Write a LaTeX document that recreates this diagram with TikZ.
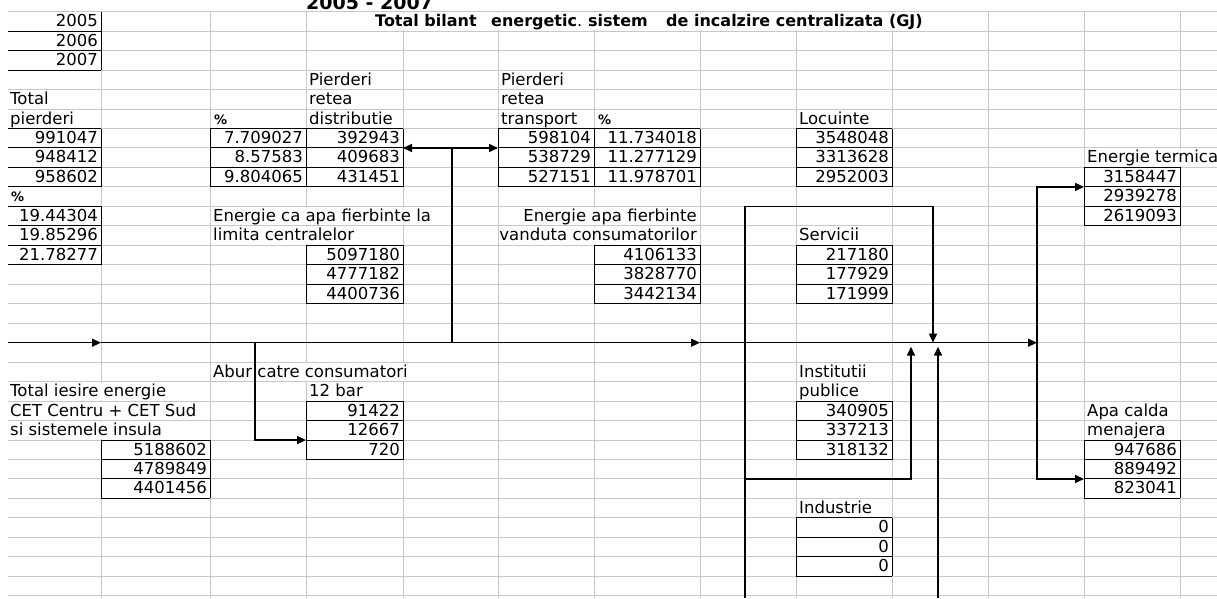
\documentclass[tikz,border=0pt]{standalone}
\usepackage{fontspec}
\setmainfont{DejaVu Sans}
\usetikzlibrary{arrows.meta}
\definecolor{gridc}{RGB}{200,200,200}
\tikzset{
  gridline/.style={draw=gridc, line width=1pt},
  gridgap/.style={draw=white, line width=3pt},
  cellb/.style={draw=black, line width=1pt},
  flow/.style={draw=black, line width=1.5pt},
  flowarr/.style={flow, -{Triangle[length=9pt,width=8pt]}},
  lt/.style={anchor=base west, inner sep=0pt},
  rt/.style={anchor=base east, inner sep=0pt},
  boldtxt/.style={anchor=base west, inner sep=0pt, font=\fontsize{16}{18}\bfseries\selectfont},
  pct/.style={anchor=base west, inner sep=0pt, font=\fontsize{13}{15}\bfseries\selectfont},
}
\newcommand\celltxtL[4]{\node[lt] (#1) at (#2,{Ly(#3)-4.5}) {#4};}
\newcommand\celltxtR[4]{\node[rt] (#1) at (#2,{Ly(#3)-4.5}) {#4};}
\newcommand\cellpct[3]{\node[pct] (#1) at (#2,{Ly(#3)-4.5}) {\%};}
\newcommand\cellbox[5]{%
  \foreach \k in {#3,...,#4} {\draw[cellb] (#1,{Ly(\k-1)}) -- (#2,{Ly(\k-1)});}
  \draw[cellb] (#1,{Ly(#4)}) -- (#2,{Ly(#4)});
  \draw[cellb] (#2,{Ly(#3-1)}) -- (#2,{Ly(#4)});
  \ifnum#5=1 \draw[cellb] (#1,{Ly(#3-1)}) -- (#1,{Ly(#4)});\fi
}
\begin{document}
\begin{tikzpicture}[x=1pt,y=-1pt, font=\fontsize{16.5}{19}\selectfont,
  declare function={Ly(\k)=11.7+19.47*\k;}]
\useasboundingbox (0,0) rectangle (1217,598);
\clip (0,0) rectangle (1217,598);
\fill[white] (0,0) rectangle (1217,598);

% grid
\foreach \k in {0,...,30} \draw[gridline] (8,{Ly(\k)}) -- (1217,{Ly(\k)});
\foreach \x in {101,210,306,403,498,594,700,796,892,988,1084,1180}
  \draw[gridline] (\x,{Ly(0)}) -- (\x,598);
% gridlines hidden under overflowing text
\foreach \r/\x in {1/403,1/498,1/594,1/700,1/796,1/892,8/1180,11/306,11/403,11/594,
                   12/306,12/594,19/306,19/403,20/101,21/101,22/101}
  \draw[gridgap] (\x,{Ly(\r-1)+1}) -- (\x,{Ly(\r)-1});

% cell borders
\foreach \k in {1,2,3} \draw[cellb] (8,{Ly(\k)}) -- (101,{Ly(\k)});
\draw[cellb] (101,{Ly(0)}) -- (101,{Ly(3)});
\cellbox{8}{101}{7}{9}{0}
\cellbox{8}{101}{11}{13}{0}
\cellbox{210}{403}{7}{9}{1}
\draw[cellb] (306,{Ly(6)}) -- (306,{Ly(9)});
\cellbox{498}{700}{7}{9}{1}
\draw[cellb] (594,{Ly(6)}) -- (594,{Ly(9)});
\cellbox{796}{892}{7}{9}{1}
\cellbox{1084}{1180}{9}{11}{1}
\cellbox{306}{403}{13}{15}{1}
\cellbox{594}{700}{13}{15}{1}
\cellbox{796}{892}{13}{15}{1}
\cellbox{306}{403}{21}{23}{1}
\cellbox{101}{210}{23}{25}{1}
\cellbox{796}{892}{21}{23}{1}
\cellbox{1084}{1180}{23}{25}{1}
\cellbox{796}{892}{27}{29}{1}

% title (its upper part lies above the sheet, as in the screenshot)
\node[anchor=base west, inner sep=0pt, font=\fontsize{19}{22}\bfseries\selectfont] (hdr) at (306,9) {2005 - 2007};
\node[boldtxt] (ti1) at (375,{Ly(1)-4.5}) {Total bilant};
\node[boldtxt] (ti2) at (491,{Ly(1)-4.5}) {energetic\textmd{.}};
\node[boldtxt] (ti3) at (588,{Ly(1)-4.5}) {sistem};
\node[boldtxt] (ti4) at (666,{Ly(1)-4.5}) {de incalzire centralizata (GJ)};

% column A
\celltxtR{y05}{98}{1}{2005}
\celltxtR{y06}{98}{2}{2006}
\celltxtR{y07}{98}{3}{2007}
\celltxtL{tp1}{10}{5}{Total}
\celltxtL{tp2}{10}{6}{pierderi}
\celltxtR{tpa}{98}{7}{991047}
\celltxtR{tpb}{98}{8}{948412}
\celltxtR{tpc}{98}{9}{958602}
\cellpct{pcA}{11}{10}
\celltxtR{ppa}{98}{11}{19.44304}
\celltxtR{ppb}{98}{12}{19.85296}
\celltxtR{ppc}{98}{13}{21.78277}
\celltxtL{te1}{10}{20}{Total iesire energie}
\celltxtL{te2}{10}{21}{CET Centru + CET Sud}
\celltxtL{te3}{10}{22}{si sistemele insula}
% column B
\celltxtR{tea}{207}{23}{5188602}
\celltxtR{teb}{207}{24}{4789849}
\celltxtR{tec}{207}{25}{4401456}
% column C
\cellpct{pcC}{214}{6}
\celltxtR{pda}{303}{7}{7.709027}
\celltxtR{pdb}{303}{8}{8.57583}
\celltxtR{pdc}{303}{9}{9.804065}
\celltxtL{ec1}{213}{11}{Energie ca apa fierbinte la}
\celltxtL{ec2}{213}{12}{limita centralelor}
\celltxtL{ab1}{213}{19}{Abur catre consumatori}
% column D
\celltxtL{rd1}{309}{4}{Pierderi}
\celltxtL{rd2}{309}{5}{retea}
\celltxtL{rd3}{309}{6}{distributie}
\celltxtR{rda}{400}{7}{392943}
\celltxtR{rdb}{400}{8}{409683}
\celltxtR{rdc}{400}{9}{431451}
\celltxtR{eca}{400}{13}{5097180}
\celltxtR{ecb}{400}{14}{4777182}
\celltxtR{ecc}{400}{15}{4400736}
\celltxtL{ab2}{309}{20}{12 bar}
\celltxtR{aba}{400}{21}{91422}
\celltxtR{abb}{400}{22}{12667}
\celltxtR{abc}{400}{23}{720}
% column F
\celltxtL{rt1}{501}{4}{Pierderi}
\celltxtL{rt2}{501}{5}{retea}
\celltxtL{rt3}{501}{6}{transport}
\celltxtR{rta}{591}{7}{598104}
\celltxtR{rtb}{591}{8}{538729}
\celltxtR{rtc}{591}{9}{527151}
% column G
\cellpct{pcG}{598}{6}
\celltxtR{pta}{697}{7}{11.734018}
\celltxtR{ptb}{697}{8}{11.277129}
\celltxtR{ptc}{697}{9}{11.978701}
\celltxtR{ev1}{697}{11}{Energie apa fierbinte}
\celltxtR{ev2}{697}{12}{vanduta consumatorilor}
\celltxtR{eva}{697}{13}{4106133}
\celltxtR{evb}{697}{14}{3828770}
\celltxtR{evc}{697}{15}{3442134}
% column I
\celltxtL{lo1}{799}{6}{Locuinte}
\celltxtR{loa}{889}{7}{3548048}
\celltxtR{lob}{889}{8}{3313628}
\celltxtR{loc}{889}{9}{2952003}
\celltxtL{se1}{799}{12}{Servicii}
\celltxtR{sea}{889}{13}{217180}
\celltxtR{seb}{889}{14}{177929}
\celltxtR{sec}{889}{15}{171999}
\celltxtL{in1}{799}{19}{Institutii}
\celltxtL{in2}{799}{20}{publice}
\celltxtR{ina}{889}{21}{340905}
\celltxtR{inb}{889}{22}{337213}
\celltxtR{inc}{889}{23}{318132}
\celltxtL{id1}{799}{26}{Industrie}
\celltxtR{ida}{889}{27}{0}
\celltxtR{idb}{889}{28}{0}
\celltxtR{idc}{889}{29}{0}
% column L
\celltxtL{et1}{1087}{8}{Energie termica}
\celltxtR{eta}{1177}{9}{3158447}
\celltxtR{etb}{1177}{10}{2939278}
\celltxtR{etc}{1177}{11}{2619093}
\celltxtL{ac1}{1087}{21}{Apa calda}
\celltxtL{ac2}{1087}{22}{menajera}
\celltxtR{aca}{1177}{23}{947686}
\celltxtR{acb}{1177}{24}{889492}
\celltxtR{acc}{1177}{25}{823041}

% connector coordinates
\coordinate (m0) at (8,{Ly(17)});
\coordinate (m1) at (101,{Ly(17)});
\coordinate (m2) at (700,{Ly(17)});
\coordinate (m3) at (1037,{Ly(17)});
\coordinate (j1) at (452,{Ly(17)});
\coordinate (j2) at (452,{Ly(7)});
\coordinate (jL) at (403,{Ly(7)});
\coordinate (jR) at (498,{Ly(7)});
\coordinate (k1) at (255,{Ly(17)});
\coordinate (k3) at (306,{Ly(22)});
\coordinate (r0) at (745,598);
\coordinate (r1) at (745,{Ly(10)});
\coordinate (r2) at (933,{Ly(10)});
\coordinate (r3) at (933,{Ly(17)});
\coordinate (s0) at (745,{Ly(24)});
\coordinate (s1) at (911,{Ly(24)});
\coordinate (s2) at (911,{Ly(17)+4});
\coordinate (t0) at (938,598);
\coordinate (t1) at (938,{Ly(17)+4});
\coordinate (u2) at (1084,{Ly(9)});
\coordinate (v2) at (1084,{Ly(24)});

% connectors
\draw[flowarr] (m0) -- (m1);
\draw[flowarr] (m1) -- (m2);
\draw[flowarr] (m2) -- (m3);
\draw[flow] (j1) -- (j2);
\draw[flowarr] (j2) -- (jL);
\draw[flowarr] (j2) -- (jR);
\draw[flowarr] (k1) |- (k3);
\draw[flowarr] (r0) -- (r1) -- (r2) -- (r3);
\draw[flowarr] (s0) -- (s1) -- (s2);
\draw[flowarr] (t0) -- (t1);
\draw[flowarr] (m3) |- (u2);
\draw[flowarr] (m3) |- (v2);
\end{tikzpicture}
\end{document}
